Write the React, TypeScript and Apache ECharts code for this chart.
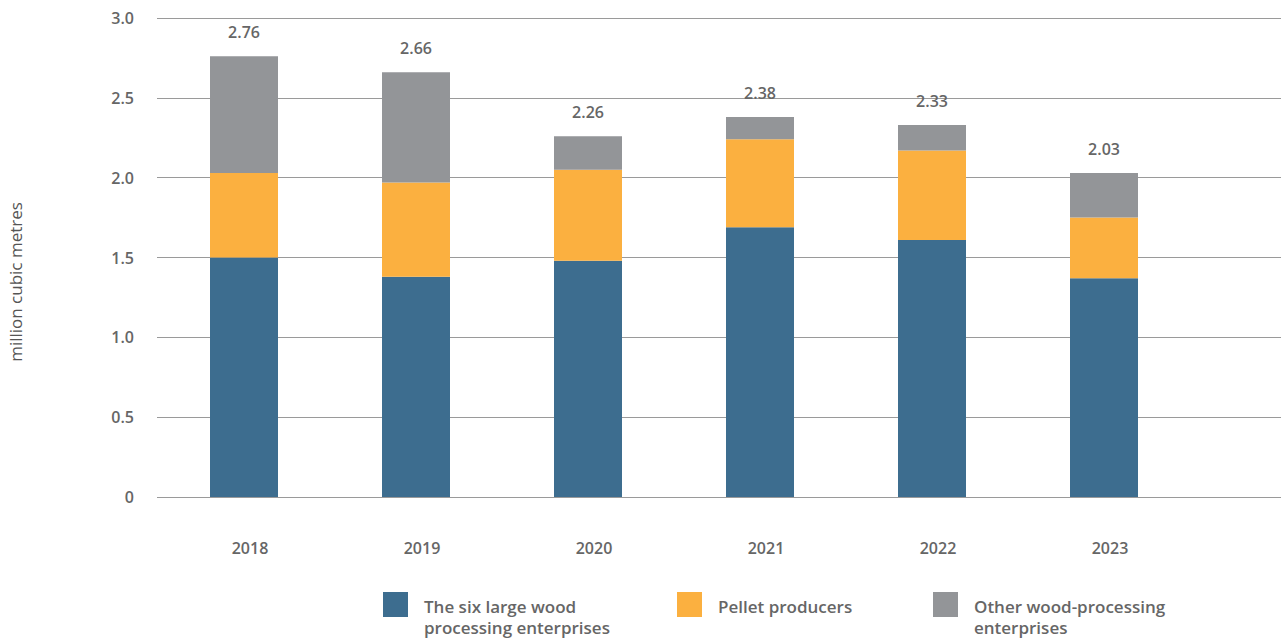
import React, { useEffect, useRef } from "react";
import * as echarts from "echarts";

const years = ["2018", "2019", "2020", "2021", "2022", "2023"];
const sixLarge = [1.5, 1.38, 1.48, 1.69, 1.61, 1.37];
const pellet = [0.53, 0.59, 0.57, 0.55, 0.56, 0.38];
const other = [0.73, 0.69, 0.21, 0.14, 0.16, 0.28];
const totals = ["2.76", "2.66", "2.26", "2.38", "2.33", "2.03"];
const seriesNames = [
  "The six large wood\nprocessing enterprises",
  "Pellet producers",
  "Other wood-processing\nenterprises",
];
const colors = ["#3d6d8f", "#fbb040", "#939598"];
const yTitle = "million cubic metres";

const FONT = "'Open Sans', 'Lato', sans-serif";
const TXT = "#666666";

export default function App() {
  const ref = useRef<HTMLDivElement>(null);
  useEffect(() => {
    if (!ref.current) return;
    const chart = echarts.init(ref.current, undefined, { renderer: "svg" });
    const legendX = [383, 677, 933];
    const graphic: any[] = [];
    seriesNames.forEach((n, i) => {
      graphic.push({
        type: "rect",
        shape: { x: legendX[i], y: 592, width: 25, height: 25 },
        style: { fill: colors[i] },
      });
      n.split("\n").forEach((line, j) => {
        graphic.push({
          type: "text",
          x: legendX[i] + 41,
          y: 606 + j * 21,
          style: {
            text: line,
            fill: TXT,
            font: `600 17px ${FONT}`,
            verticalAlign: "middle",
            align: "left",
          },
        });
      });
    });
    graphic.push({
      type: "text",
      x: 15,
      y: 282,
      rotation: Math.PI / 2,
      style: {
        text: yTitle,
        fill: "#555555",
        font: `400 17px ${FONT}`,
        align: "center",
        verticalAlign: "middle",
      },
    });

    const barSeries = [sixLarge, pellet, other].map((d, i) => ({
      name: seriesNames[i],
      type: "bar",
      stack: "total",
      xAxisIndex: 1,
      yAxisIndex: 1,
      barWidth: 68,
      data: d,
      itemStyle: { color: colors[i] },
      label:
        i === 2
          ? {
              show: true,
              position: "top",
              distance: 16,
              formatter: (p: any) => totals[p.dataIndex],
              color: TXT,
              fontFamily: FONT,
              fontWeight: 600,
              fontSize: 16,
            }
          : { show: false },
    }));

    chart.setOption({
      animation: false,
      textStyle: { fontFamily: FONT },
      grid: [
        { left: 157, right: 4, top: 18, bottom: 145 },
        { left: 158, width: 1032, top: 18, bottom: 145 },
      ],
      xAxis: [
        { type: "value", gridIndex: 0, show: false, min: 0, max: 1 },
        {
          type: "category",
          gridIndex: 1,
          data: years,
          axisLine: { show: false },
          axisTick: { show: false },
          axisLabel: {
            margin: 43,
            color: TXT,
            fontFamily: FONT,
            fontWeight: 600,
            fontSize: 16,
            padding: [0, 0, 0, 12],
          },
        },
      ],
      yAxis: [
        {
          type: "value",
          gridIndex: 0,
          min: 0,
          max: 3,
          interval: 0.5,
          axisLine: { show: false },
          axisTick: { show: false },
          splitLine: { show: true, lineStyle: { color: "#9a9a9a", width: 1 } },
          axisLabel: {
            margin: 23,
            color: TXT,
            fontFamily: FONT,
            fontWeight: 600,
            fontSize: 16,
            formatter: (v: number) => (v === 0 ? "0" : v.toFixed(1)),
          },
        },
        {
          type: "value",
          gridIndex: 1,
          min: 0,
          max: 3,
          interval: 0.5,
          show: false,
          splitLine: { show: false },
        },
      ],
      series: barSeries,
      graphic,
    });
    return () => chart.dispose();
  }, []);
  return (
    <div
      ref={ref}
      style={{ position: "fixed", left: 0, top: 0, width: 1285, height: 642, background: "#fff" }}
    />
  );
}
